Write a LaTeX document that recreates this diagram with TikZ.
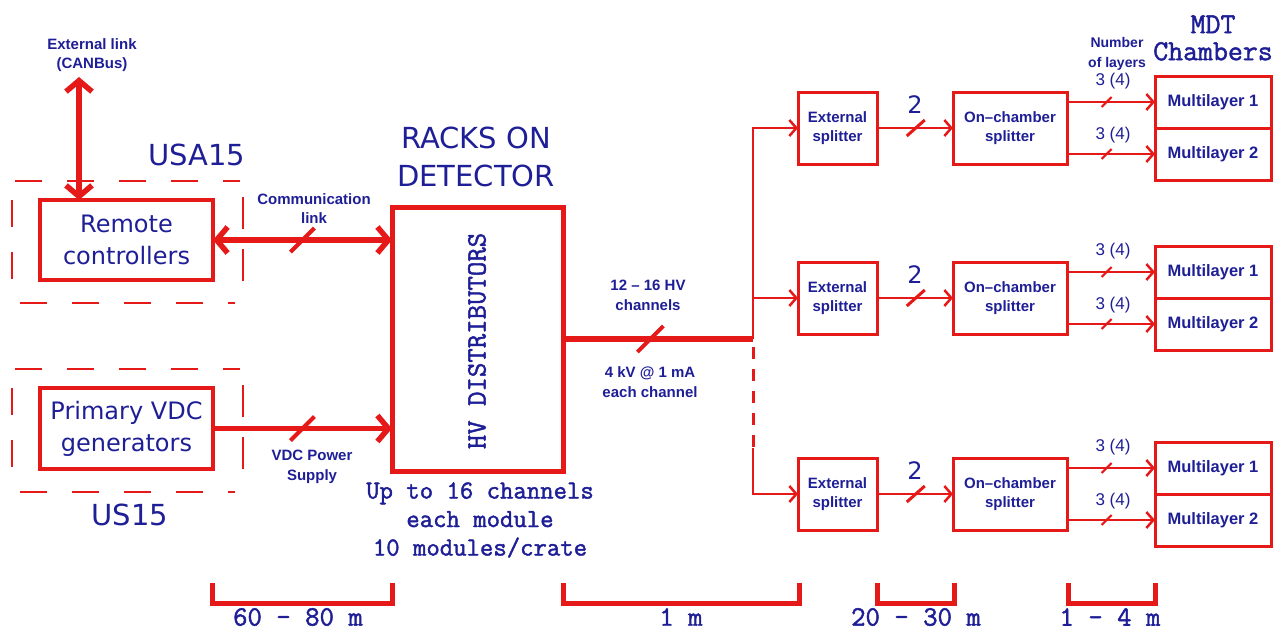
\documentclass[tikz,border=0pt]{standalone}
\usepackage{fontspec}
\newfontfamily\dvs{DejaVu Sans}
\newfontfamily\lib{Liberation Sans}
\newfontfamily\mymono{Latin Modern Mono}[FakeBold=1.6]
\usetikzlibrary{arrows.meta,calc}
\definecolor{cred}{RGB}{230,25,25}
\definecolor{cblue}{RGB}{30,30,150}
\tikzset{
 lbl/.style={text=cblue, inner sep=0pt, outer sep=0pt, align=center},
 bigbox/.style={draw=cred, line width=4.5pt, minimum width=173pt, minimum height=80pt, inner sep=0pt, outer sep=0pt, text=cblue, align=center, font=\dvs\fontsize{24}{32}\selectfont},
 smallbox/.style={draw=cred, line width=3pt, minimum height=72pt, inner sep=0pt, outer sep=0pt, text=cblue, align=center, font=\lib\bfseries\fontsize{15}{18.5}\selectfont},
 mlbox/.style={draw=cred, line width=3pt, minimum width=116pt, minimum height=52pt, inner sep=0pt, outer sep=0pt, text=cblue, font=\lib\bfseries\fontsize{16.5}{20}\selectfont},
 bigarrow/.style={draw=cred, line width=5.5pt, -{Straight Barb[length=11pt,width=26pt]}},
 bigdarrow/.style={draw=cred, line width=5.5pt, {Straight Barb[length=11pt,width=26pt]}-{Straight Barb[length=11pt,width=26pt]}},
 thinarrow/.style={draw=cred, line width=2.5pt, line join=miter, -{Straight Barb[length=7pt,width=16pt]}},
 trunkline/.style={draw=cred, line width=3pt},
 hvline/.style={draw=cred, line width=6pt},
 dashside/.style={draw=cred, line width=2pt, dash pattern=on 27pt off 25pt},
 barline/.style={draw=cred, line width=5pt, line join=miter},
 slashline/.style={draw=cred, line width=#1},
 sans/.style={font=\lib\bfseries\fontsize{15}{19}\selectfont},
 bigsans/.style={font=\dvs\fontsize{29}{38}\selectfont},
}
\begin{document}
\begin{tikzpicture}[x=1pt,y=-1pt]
\useasboundingbox (0,0) rectangle (1287,630);

% ---- left side: USA15 ----
\node[lbl, sans] (extlink) at (92,55) {External link\\(CANBus)};
\node[lbl, bigsans] (usa) at (197,155) {USA15};
\node[bigbox] (remote) at (126.5,240) {\raisebox{-3pt}{Remote}\\\raisebox{-3pt}{controllers}};
\draw[dashside] (15,181) -- (240,181);
\draw[dashside] (20,303) -- (235,303);
\draw[dashside] (12,200) -- (12,285);
\draw[dashside, dash pattern=on 32pt off 20pt] (243,197) -- (243,290);
\coordinate (canbus) at (79,77);
\draw[bigdarrow] (canbus) -- (canbus |- remote.north);

% ---- left side: US15 ----
\node[bigbox, minimum height=81pt] (primary) at (126.5,428.5) {\raisebox{-2pt}{Primary VDC}\\\raisebox{-2pt}{generators}};
\draw[dashside] (15,369) -- (240,369);
\draw[dashside] (20,492) -- (235,492);
\draw[dashside] (12,388) -- (12,473);
\draw[dashside, dash pattern=on 32pt off 20pt] (243,385) -- (243,478);
\node[lbl, bigsans] (us) at (130,515) {US15};

% ---- HV distributors ----
\node[lbl, bigsans] (racks) at (476,157) {RACKS ON\\DETECTOR};
\node[draw=cred, line width=5pt, minimum width=171pt, minimum height=264pt, inner sep=0pt, outer sep=0pt] (hv) at (477.5,339) {};
\node[lbl, font=\mymono\fontsize{28}{30}\selectfont, rotate=90] (hvt) at (477,341) {HV DISTRIBUTORS};
\node[lbl, font=\mymono\fontsize{26}{28.5}\selectfont] (upto) at (480,520) {Up to 16 channels\\each module\\10 modules/crate};

% communication link
\draw[bigdarrow] (remote.east) -- coordinate[pos=0.5] (s1) (remote.east -| hv.west);
\draw[slashline=4pt] ($(s1)+(-12,12)$) -- ($(s1)+(12,-12)$);
\node[lbl, sans] (comm) at (314,209) {Communication\\link};

% VDC power supply
\draw[bigarrow] (primary.east) -- coordinate[pos=0.5] (s2) (primary.east -| hv.west);
\draw[slashline=4pt] ($(s2)+(-12,12)$) -- ($(s2)+(12,-12)$);
\node[lbl, font=\lib\bfseries\fontsize{15}{20}\selectfont] (vdc) at (312,467) {VDC Power\\Supply};

% ---- HV output trunk ----
\coordinate (t1) at (753,128);
\coordinate (t2) at (753,298);
\coordinate (tm) at (753,339);
\coordinate (td) at (753,448);
\coordinate (t3) at (753,494);
\draw[hvline] (hv.east) -- coordinate[pos=0.46] (s3) (tm);
\draw[slashline=4pt] ($(s3)+(-13,13)$) -- ($(s3)+(13,-13)$);
\node[lbl, font=\lib\bfseries\fontsize{15}{20}\selectfont] (hvch) at (648,295) {12 – 16 HV\\channels};
\node[lbl, font=\lib\bfseries\fontsize{15}{20}\selectfont] (kv) at (650,382) {4 kV @ 1 mA\\each channel};

% ---- splitter groups ----
\foreach \c/\i in {128/1,298/2,494/3}{
  \node[smallbox, minimum width=79pt] (ext\i) at (837.5,\c) {External\\splitter};
  \node[smallbox, minimum width=114pt] (onc\i) at (1010,\c) {On–chamber\\splitter};
  \node[mlbox] (mla\i) at (1213,\c-26) {Multilayer 1};
  \node[mlbox] (mlb\i) at (1213,\c+26) {Multilayer 2};
  \draw[thinarrow] (ext\i.east) -- coordinate[pos=0.51] (sx\i) (onc\i.west);
  \draw[slashline=3pt] ($(sx\i)+(-9,8)$) -- ($(sx\i)+(9,-8)$);
  \node[lbl, font=\dvs\fontsize{24}{26}\selectfont] (two\i) at (915,\c-23) {2};
  \draw[thinarrow] (mla\i.west -| onc\i.east) -- coordinate[pos=0.45] (sa\i) (mla\i.west);
  \draw[thinarrow] (mlb\i.west -| onc\i.east) -- coordinate[pos=0.45] (sb\i) (mlb\i.west);
  \draw[slashline=2pt] ($(sa\i)+(-5,5)$) -- ($(sa\i)+(5,-5)$);
  \draw[slashline=2pt] ($(sb\i)+(-5,5)$) -- ($(sb\i)+(5,-5)$);
  \node[lbl, font=\lib\fontsize{17}{19}\selectfont] (na\i) at (1113,\c-47) {3 (4)};
  \node[lbl, font=\lib\fontsize{17}{19}\selectfont] (nb\i) at (1113,\c+7) {3 (4)};
}
\draw[thinarrow] (tm) -- (t1) -- (ext1.west);
\draw[thinarrow] (t2) -- (ext2.west);
\draw[trunkline, dash pattern=on 12pt off 10pt] ($(tm)+(0,8)$) -- (td);
\draw[thinarrow] (td) -- (t3) -- (ext3.west);

\node[lbl, font=\lib\bfseries\fontsize{14}{20}\selectfont] (nlay) at (1117,54) {Number\\of layers};
\node[lbl, font=\mymono\fontsize{29}{27}\selectfont] (mdt) at (1213,38) {MDT\\Chambers};

% ---- distance scale bars ----
\draw[barline] (212,583) -- (212,603) -- (392,603) -- (392,583);
\draw[barline] (563,583) -- (563,603) -- (799,603) -- (799,583);
\draw[barline] (877,583) -- (877,603) -- (954,603) -- (954,583);
\draw[barline] (1068,583) -- (1068,603) -- (1155,603) -- (1155,583);
\node[lbl, font=\mymono\fontsize{28}{30}\selectfont] (d1) at (298,617) {60 – 80 m};
\node[lbl, font=\mymono\fontsize{28}{30}\selectfont] (d2) at (681,617) {1 m};
\node[lbl, font=\mymono\fontsize{28}{30}\selectfont] (d3) at (916,617) {20 – 30 m};
\node[lbl, font=\mymono\fontsize{28}{30}\selectfont] (d4) at (1110,617) {1 – 4 m};
\end{tikzpicture}
\end{document}
